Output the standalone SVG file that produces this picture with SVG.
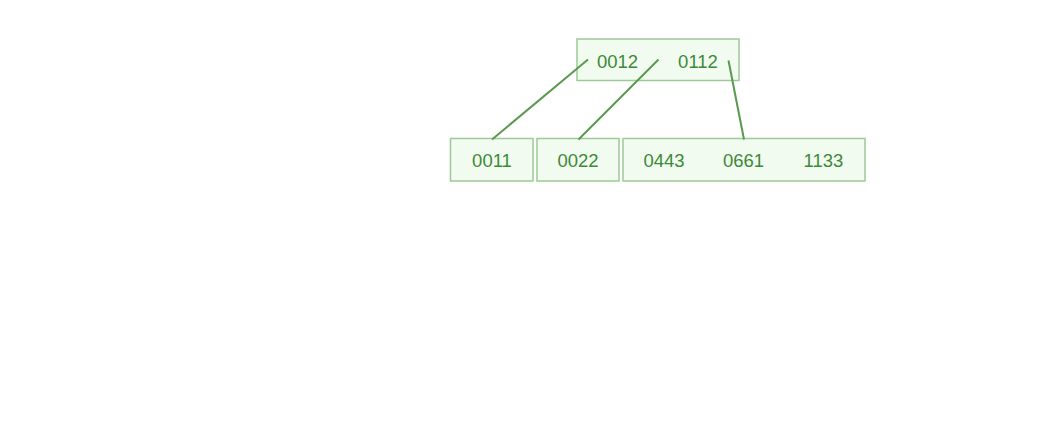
<svg xmlns="http://www.w3.org/2000/svg" width="1046" height="442" viewBox="0 0 1046 442">
<style>
.box{fill:#f1fbef;stroke:#9cca96;stroke-width:1.5}
.t{font-family:"Liberation Sans",Arial,sans-serif;font-size:18.5px;fill:#3c8a37;text-anchor:middle;dominant-baseline:central}
.c{stroke:#58994e;stroke-width:2;fill:none}
</style>
<rect width="1046" height="442" fill="#ffffff"/>
<g id="root">
<rect class="box" x="577" y="39" width="162" height="41.5"/>
<text class="t" x="617.5" y="61">0012</text>
<text class="t" x="698" y="61">0112</text>
</g>
<g id="leaf1">
<rect class="box" x="450.5" y="138.5" width="82.5" height="42.5"/>
<text class="t" x="492" y="160.5">0011</text>
</g>
<g id="leaf2">
<rect class="box" x="537" y="138.5" width="82" height="42.5"/>
<text class="t" x="578" y="160.5">0022</text>
</g>
<g id="leaf3">
<rect class="box" x="623" y="138.5" width="242" height="42.5"/>
<text class="t" x="664" y="160.5">0443</text>
<text class="t" x="743.5" y="160.5">0661</text>
<text class="t" x="823.5" y="160.5">1133</text>
</g>
<g id="connectors">
<line class="c" x1="588" y1="59.5" x2="492" y2="139.5"/>
<line class="c" x1="658.5" y1="59.5" x2="578.5" y2="139.5"/>
<line class="c" x1="728.5" y1="60.5" x2="744" y2="139.5"/>
</g>
</svg>
